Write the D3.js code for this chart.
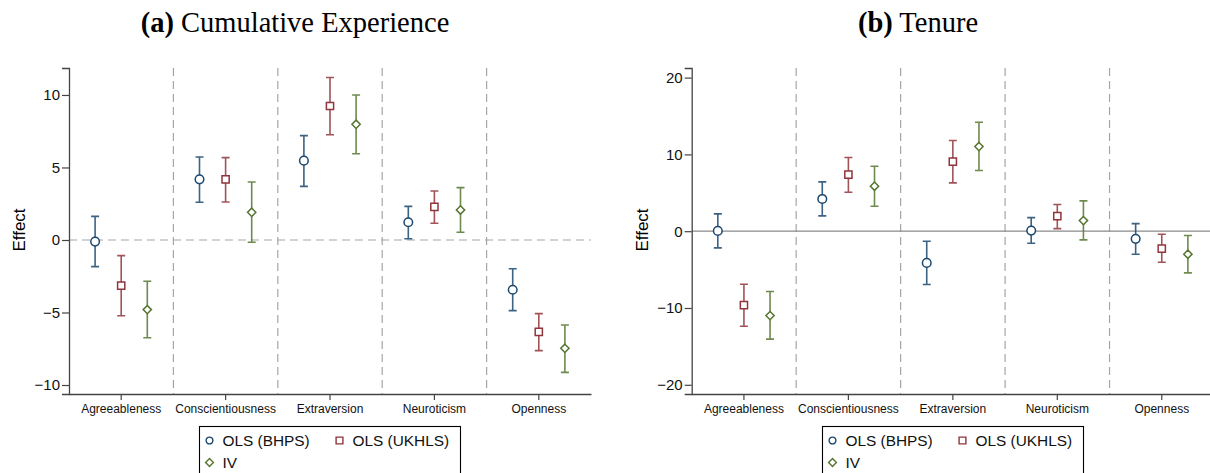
<!DOCTYPE html>
<html>
<head>
<meta charset="utf-8">
<script src="https://cdn.jsdelivr.net/npm/d3@7"></script>
<style>
  body { margin: 0; background: #fff; }
  svg { display: block; }
</style>
</head>
<body>
<div id="chart"></div>
<script>
// categories and series
const traits = ["Agreeableness", "Conscientiousness", "Extraversion", "Neuroticism", "Openness"];
const seriesNames = ["OLS (BHPS)", "OLS (UKHLS)", "IV"];
const seriesColors = ["#1a476f", "#90353b", "#55752f"];
const seriesShapes = ["circle", "square", "diamond"];

// (a) Cumulative Experience: [estimate, lower, upper] for each trait
const expBHPS  = [[-0.11, -1.84, 1.63], [4.18, 2.60, 5.72], [5.47, 3.70, 7.20], [1.22, 0.09, 2.32], [-3.43, -4.87, -1.98]];
const expUKHLS = [[-3.15, -5.22, -1.08], [4.18, 2.62, 5.68], [9.24, 7.26, 11.20], [2.28, 1.15, 3.38], [-6.34, -7.63, -5.08]];
const expIV    = [[-4.80, -6.74, -2.85], [1.91, -0.16, 4.00], [7.98, 5.95, 10.00], [2.07, 0.53, 3.61], [-7.47, -9.13, -5.86]];
const expTicks = [-10, -5, 0, 5, 10];

// (b) Tenure
const tenBHPS  = [[0.04, -2.17, 2.25], [4.20, 1.99, 6.42], [-4.13, -6.95, -1.30], [0.08, -1.57, 1.77], [-1.00, -3.00, 0.99]];
const tenUKHLS = [[-9.64, -12.37, -6.90], [7.37, 5.07, 9.59], [9.06, 6.29, 11.80], [1.95, 0.34, 3.47], [-2.26, -4.04, -0.39]];
const tenIV    = [[-10.99, -14.06, -7.86], [5.86, 3.25, 8.46], [11.02, 7.90, 14.19], [1.38, -1.13, 3.95], [-3.00, -5.43, -0.57]];
const tenTicks = [-20, -10, 0, 10, 20];

const svg = d3.select("#chart")
  .append("svg")
    .attr("width", 1210)
    .attr("height", 473);

const sansFont = "'Liberation Sans', Arial, Helvetica, sans-serif";

function markerPath(shape, size) {
  if (shape === "circle") {
    return d3.symbol(d3.symbolCircle, Math.PI * size * size)();
  }
  if (shape === "square") {
    return `M${-size},${-size}H${size}V${size}H${-size}Z`;
  }
  const d = size * 1.15;
  return `M0,${-d}L${d},0L0,${d}L${-d},0Z`;
}

function drawPanel(p) {
  const g = svg.append("g");

  const x = d3.scaleBand()
    .domain(traits)
    .range([p.left, p.right]);

  const y = d3.scaleLinear()
    .domain(p.yDomain)
    .range([394, 68]);

  // vertical separators between traits
  g.selectAll(".sep")
    .data(traits.slice(1))
    .enter()
    .append("line")
      .attr("x1", (t) => x(t))
      .attr("x2", (t) => x(t))
      .attr("y1", 68)
      .attr("y2", 394)
      .attr("stroke", "#a6a6a6")
      .attr("stroke-width", 1.2)
      .attr("stroke-dasharray", "8,5");

  // zero line
  g.append("line")
    .attr("x1", p.left)
    .attr("x2", p.right)
    .attr("y1", y(0))
    .attr("y2", y(0))
    .attr("stroke", p.zeroDashed ? "#a6a6a6" : "#8a8a8a")
    .attr("stroke-width", 1.2)
    .attr("stroke-dasharray", p.zeroDashed ? "8,5" : null);

  // y axis
  const yAxis = g.append("g")
    .attr("transform", `translate(${p.left},0)`)
    .call(d3.axisLeft(y).tickValues(p.ticks).tickSize(7).tickPadding(2).tickFormat(d3.format("d")));
  yAxis.select(".domain").attr("stroke", "#444").attr("stroke-width", 1.3);
  yAxis.selectAll(".tick line").attr("stroke", "#444").attr("stroke-width", 1.2);
  yAxis.selectAll("text").attr("font-family", sansFont).attr("font-size", 15).attr("fill", "#111");

  // x axis
  const xAxis = g.append("g")
    .attr("transform", "translate(0,394)")
    .call(d3.axisBottom(x).tickSize(6).tickPadding(4).tickSizeOuter(0));
  xAxis.select(".domain").attr("stroke", "#444").attr("stroke-width", 1.3);
  xAxis.selectAll(".tick line").attr("stroke", "#444").attr("stroke-width", 1.2);
  xAxis.selectAll("text").attr("font-family", sansFont).attr("font-size", 12).attr("fill", "#111");

  // y label
  g.append("text")
    .attr("transform", `translate(${p.yLabelX},230) rotate(-90)`)
    .attr("text-anchor", "middle")
    .attr("font-family", sansFont)
    .attr("font-size", 17)
    .text("Effect");

  // title
  const title = g.append("text")
    .attr("x", p.titleX)
    .attr("y", 32)
    .attr("text-anchor", "middle")
    .attr("font-family", "'Liberation Serif', 'Times New Roman', serif")
    .attr("font-size", 28.5);
  title.append("tspan").attr("font-weight", "bold").text(p.titleTag);
  title.append("tspan").text(" " + p.title);

  // error bars and markers
  const off = x.bandwidth() / 4;
  p.series.forEach((vals, si) => {
    const color = seriesColors[si];
    const rows = vals.map((v, i) => ({ trait: traits[i], est: v[0], lo: v[1], hi: v[2] }));
    const cx = (d) => x(d.trait) + x.bandwidth() / 2 + (si - 1) * off;
    const sg = g.append("g");

    sg.selectAll(".bar")
      .data(rows)
      .enter()
      .append("path")
        .attr("d", (d) => {
          const c = cx(d), t = y(d.hi), b = y(d.lo);
          return `M${c},${t}V${b}M${c - 4},${t}H${c + 4}M${c - 4},${b}H${c + 4}`;
        })
        .attr("fill", "none")
        .attr("stroke", color)
        .attr("stroke-opacity", 0.85)
        .attr("stroke-width", 1.6);

    sg.selectAll(".pt")
      .data(rows)
      .enter()
      .append("path")
        .attr("transform", (d) => `translate(${cx(d)},${y(d.est)})`)
        .attr("d", markerPath(seriesShapes[si], si === 0 ? 4.3 : 3.6))
        .attr("fill", "#fff")
        .attr("stroke", color)
        .attr("stroke-width", 1.5);
  });

  // legend
  const lg = g.append("g").attr("transform", `translate(${p.legendX},426.5)`);
  lg.append("rect")
    .attr("width", 261)
    .attr("height", 60)
    .attr("fill", "#fff")
    .attr("stroke", "#000")
    .attr("stroke-width", 1.1);
  const legendPos = [[10, 14], [140, 14], [10, 36]];
  seriesNames.forEach((name, si) => {
    const item = lg.append("g").attr("transform", `translate(${legendPos[si][0]},${legendPos[si][1]})`);
    item.append("path")
      .attr("d", markerPath(seriesShapes[si], 3.4))
      .attr("fill", "none")
      .attr("stroke", seriesColors[si])
      .attr("stroke-width", 1.4);
    item.append("text")
      .attr("x", 13)
      .attr("y", 5.5)
      .attr("font-family", sansFont)
      .attr("font-size", 15.4)
      .attr("fill", "#111")
      .text(name);
  });
}

drawPanel({
  left: 69, right: 591, yDomain: [-10.62, 11.86], ticks: expTicks,
  zeroDashed: true, yLabelX: 25, titleX: 295, titleTag: "(a)", title: "Cumulative Experience",
  legendX: 199.5, series: [expBHPS, expUKHLS, expIV]
});

drawPanel({
  left: 691.7, right: 1214, yDomain: [-21.2, 21.25], ticks: tenTicks,
  zeroDashed: false, yLabelX: 648, titleX: 918, titleTag: "(b)", title: "Tenure",
  legendX: 822.5, series: [tenBHPS, tenUKHLS, tenIV]
});
</script>
</body>
</html>
